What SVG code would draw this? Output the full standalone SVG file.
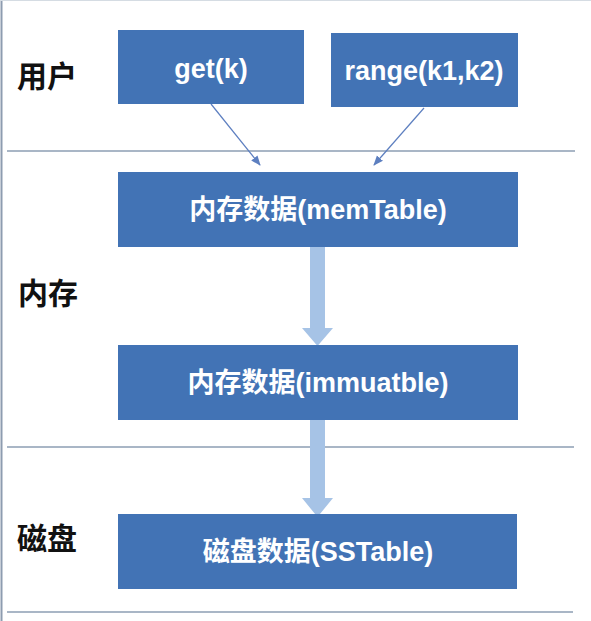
<svg xmlns="http://www.w3.org/2000/svg" width="591" height="621" viewBox="0 0 591 621">
<style>
.box{fill:#4273B5;}
.bt{fill:#ffffff;font-family:"Liberation Sans","Noto Sans CJK SC",sans-serif;font-weight:bold;font-size:27px;text-anchor:middle;}
.lbl{fill:#111111;font-family:"Noto Sans CJK SC",sans-serif;font-weight:bold;font-size:30px;}
.sep{stroke:#A9B6C6;stroke-width:2;fill:none;}
.thin{stroke:#5D7FC0;stroke-width:1.2;fill:none;marker-end:url(#ah);}
.blk{fill:#A6C3E6;}
</style>
<defs>
<marker id="ah" markerWidth="10" markerHeight="10" refX="9" refY="5" orient="auto" markerUnits="userSpaceOnUse">
<path d="M0,1 L10,5 L0,9 Z" fill="#5D7FC0"/>
</marker>
</defs>
<rect x="0" y="0" width="591" height="621" fill="#ffffff"/>
<line x1="1.5" y1="0" x2="1.5" y2="621" stroke="#8D9CB0" stroke-width="2"/>
<line x1="0" y1="0.5" x2="591" y2="0.5" stroke="#D5DCE3" stroke-width="1"/>
<g id="separators">
<line class="sep" x1="7" y1="151" x2="575" y2="151"/>
<line class="sep" x1="7" y1="447" x2="574" y2="447"/>
<line class="sep" x1="7" y1="612" x2="573" y2="612"/>
</g>
<g id="label-user"><text class="lbl" x="17" y="87">用户</text></g>
<g id="label-mem"><text class="lbl" x="18" y="304">内存</text></g>
<g id="label-disk"><text class="lbl" x="17" y="549">磁盘</text></g>
<g id="connectors">
<line class="thin" x1="211" y1="104" x2="260" y2="165"/>
<line class="thin" x1="424" y1="108" x2="374" y2="165"/>
<polygon class="blk" points="310,247 325,247 325,328 333,328 317.5,346 302,328 310,328"/>
<polygon class="blk" points="310,420 325,420 325,498 333,498 317.5,517 302,498 310,498"/>
</g>
<g id="node-get"><rect class="box" x="118" y="30" width="186" height="74"/><text class="bt" x="211" y="78">get(k)</text></g>
<g id="node-range"><rect class="box" x="331" y="33" width="187" height="74"/><text class="bt" x="424" y="80">range(k1,k2)</text></g>
<g id="node-memtable"><rect class="box" x="118" y="172" width="400" height="75"/><text class="bt" x="318" y="219">内存数据(memTable)</text></g>
<g id="node-immutable"><rect class="box" x="118" y="345" width="400" height="75"/><text class="bt" x="318" y="392">内存数据(immuatble)</text></g>
<g id="node-sstable"><rect class="box" x="118" y="514" width="399" height="75"/><text class="bt" x="318" y="561">磁盘数据(SSTable)</text></g>
</svg>
